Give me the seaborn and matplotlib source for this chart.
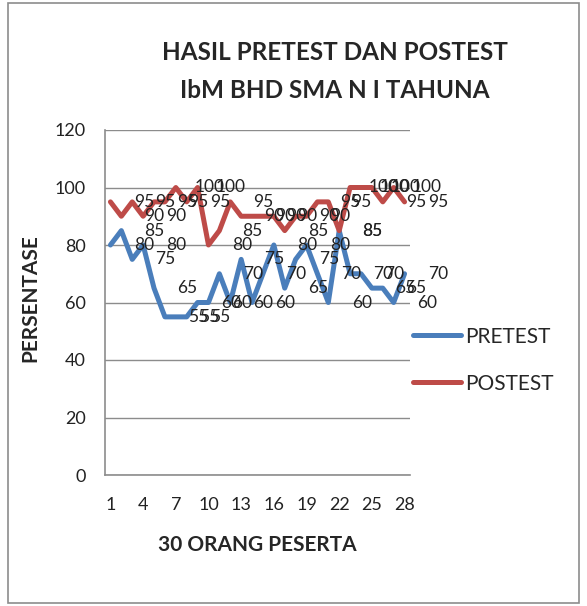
import numpy as np
import pandas as pd
import matplotlib
matplotlib.use("Agg")
import matplotlib.pyplot as plt
import seaborn as sns
from matplotlib.patches import Rectangle

# data (28 points on the axis)
peserta = list(range(1, 29))
pretest = [80, 85, 75, 80, 65, 55, 55, 55, 60, 60, 70, 60, 75, 60,
           70, 80, 65, 75, 80, 70, 60, 85, 70, 70, 65, 65, 60, 70]
postest = [95, 90, 95, 90, 95, 95, 100, 95, 100, 80, 85, 95, 90, 90,
           90, 90, 85, 90, 90, 95, 95, 85, 100, 100, 100, 95, 100, 95]
xticks = [1, 4, 7, 10, 13, 16, 19, 22, 25, 28]
yticks = [0, 20, 40, 60, 80, 100, 120]

df = pd.DataFrame({'peserta': peserta, 'PRETEST': pretest, 'POSTEST': postest})

sns.set_style("white")
plt.rcParams['font.family'] = ['Lato', 'DejaVu Sans']

fig = plt.figure(figsize=(5.87, 6.06), dpi=100)
ax = fig.add_axes([105/587, 1-475/606, 305/587, 345/606])

blue = '#4A7EBB'
red = '#BE4B48'
sns.lineplot(data=df, x='peserta', y='PRETEST', ax=ax, color=blue, lw=3.6, label='PRETEST')
sns.lineplot(data=df, x='peserta', y='POSTEST', ax=ax, color=red, lw=3.6, label='POSTEST')

# data labels, shifted right like the original
for x, v in zip(peserta, pretest):
    ax.annotate(str(v), (x, v), xytext=(24, 0), textcoords='offset points',
                ha='center', va='center', fontsize=12.5, color='#222222')
for x, v in zip(peserta, postest):
    ax.annotate(str(v), (x, v), xytext=(24, 0), textcoords='offset points',
                ha='center', va='center', fontsize=12.5, color='#222222')

ax.set_xlim(0.5, 28.5)
ax.set_ylim(0, 120)
ax.set_xticks(xticks)
ax.set_yticks(yticks)
ax.tick_params(axis='x', length=0, pad=16, labelsize=13, colors='#222222')
ax.tick_params(axis='y', length=0, pad=14, labelsize=13, colors='#222222')
ax.grid(axis='y', color='#8c8c8c', lw=1)
ax.set_axisbelow(True)
for s in ['top', 'right']:
    ax.spines[s].set_visible(False)
for s in ['left', 'bottom']:
    ax.spines[s].set_color('#8c8c8c')
    ax.spines[s].set_linewidth(1.2)

ax.set_xlabel('')
ax.set_ylabel('')
fig.text(257/587, 1-545/606, '30 ORANG PESERTA', ha='center', va='center',
         fontsize=15, fontweight='bold')
fig.text(30/587, 1-298/606, 'PERSENTASE', ha='center', va='center', rotation=90,
         fontsize=15, fontweight='bold')
fig.text(335/587, 1-52/606, 'HASIL PRETEST DAN POSTEST', ha='center', va='center',
         fontsize=17.5, fontweight='bold')
fig.text(335/587, 1-90/606, 'IbM BHD SMA N I TAHUNA', ha='center', va='center',
         fontsize=17.5, fontweight='bold')

leg = ax.legend(loc='center left', bbox_to_anchor=(1.01, 0.333), frameon=False,
                fontsize=15, handlelength=2.3, labelspacing=1.3,
                handletextpad=0.2, borderpad=0, borderaxespad=0)

fig.patches.append(Rectangle((8/587, 3/606), 571/587, 600/606, transform=fig.transFigure,
                             fill=False, edgecolor='#8c8c8c', lw=1.2))

fig.savefig('out.png', dpi=100)
